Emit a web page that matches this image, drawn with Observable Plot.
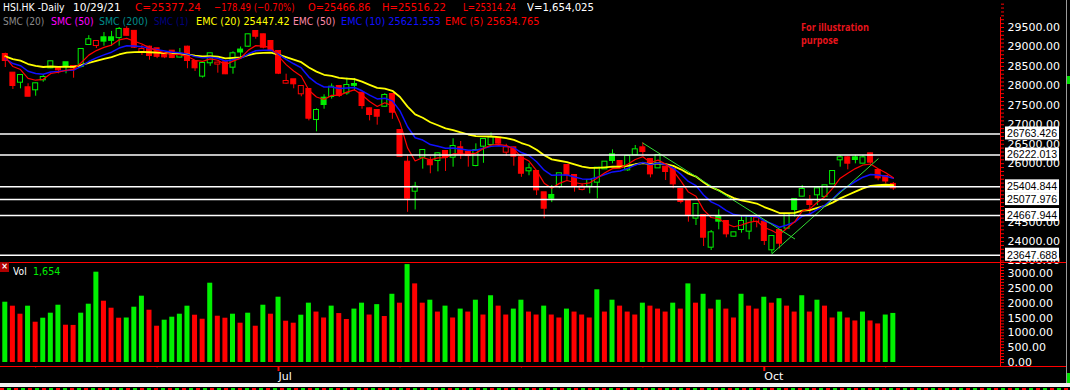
<!DOCTYPE html>
<html><head><meta charset="utf-8">
<script src="https://cdn.jsdelivr.net/npm/d3@7"></script>
<script src="https://cdn.jsdelivr.net/npm/@observablehq/plot@0.6"></script>
<style>
html,body{margin:0;padding:0;background:#000;overflow:hidden;}
#wrap{position:relative;width:1070px;height:390px;overflow:hidden;background:#000;}
#wrap svg{position:absolute;left:0;overflow:visible;}
.t{position:absolute;white-space:nowrap;font-family:"DejaVu Sans",sans-serif;font-size:10.5px;line-height:12px;transform-origin:0 0;}
.deco{position:absolute;}
</style></head><body>
<div id="wrap"></div>
<script>
// ---------------- DATA ----------------
const opens = [28806,28326,28094,27950,27899,28156,28464,28464,28593,28498,28498,29063,29037,29235,29235,29240,29450,29400,28866,28994,
28952,28823,28891,28740,28994,28626,28250,28593,28560,28593,28480,28920,29020,29397,29312,29140,28883,28070,28156,27796,
27907,27135,27683,27727,27983,27820,28035,27812,27410,27367,27477,27778,26853,26038,25293,26167,26064,26082,26313,26167,
26408,26296,25953,26450,26493,26655,26296,26408,26150,25817,25799,25251,25183,25414,25953,25696,25337,25422,25525,25868,
26228,26056,25842,26228,26407,26107,25893,25911,25851,25337,25054,24600,24668,23854,24643,24514,24137,24308,24266,24514,
24497,23786,24283,24343,25080,25165,25028,25200,25160,25482,26099,26150,26150,26013,26253,25825,25671,25466.86];
const highs = [28840,28330,28290,28053,28070,28266,28640,28480,28600,28510,28950,29290,29160,29370,29400,29500,29520,29420,29037,29020,
28960,28830,28900,28960,29020,28640,28600,28840,28610,28620,28875,29000,29330,29420,29330,29150,28890,28300,28160,27990,
27920,27410,27770,28050,28000,28200,28190,27830,27430,27390,27800,27800,26860,26200,25520,26350,26170,26280,26320,26640,
26570,26300,26510,26630,26790,26670,26500,26420,26160,26000,25810,25260,25440,25750,25960,25700,25480,25580,25900,26050,
26356,26070,26200,26467,26536,26120,26230,25920,25860,25345,25060,24960,24680,24283,24814,24530,24240,24668,24640,24610,
24505,24140,24290,24700,25090,25440,25182,25360,25440,25810,26210,26180,26210,26210,26270,25830,25680,25516.22];
const lows = [28472,27907,27924,27720,27734,28094,28440,28310,28310,28197,28464,29040,28960,29020,29020,29020,29280,28960,28780,28660,
28700,28700,28700,28720,28440,28370,28200,28500,28326,28290,28300,28720,28990,29200,28950,28900,28290,28040,27925,27720,
27100,26820,27400,27660,27700,27760,27870,27400,27100,26990,27450,27140,26180,24750,24810,25860,25740,25790,25800,25910,
26110,25910,25920,26010,26450,26500,26190,25935,25650,25690,25180,24584,25000,25360,25570,25268,25300,25225,25097,25850,
25996,25900,25800,26210,26210,25636,25880,25568,25354,24968,24497,24411,23872,23769,24300,24094,24120,24214,24043,24352,
23897,23683,23812,24330,24626,25150,24711,24925,25139,25470,25910,25842,25996,26000,25990,25560,25482,25314.24];
const closes = [28652,28010,28266,27734,28053,28215,28618,28413,28506,28464,28935,29184,29140,29150,29170,29450,29300,28994,28935,28780,
28760,28745,28730,28790,28652,28464,28575,28824,28585,28310,28824,28870,29312,29276,28994,28909,28326,28112,28053,27983,
27169,27367,27521,27966,27752,28010,28015,27495,27264,27220,27753,27323,26192,25113,25396,26339,25972,26253,26167,26442,
26254,26210,26339,26622,26665,26527,26408,26193,25755,25868,25328,24856,25113,25740,25714,25414,25400,25568,25885,26039,
26082,25911,26185,26356,26313,25739,26210,25799,25482,25028,24694,24951,24111,24223,24523,24197,24223,24514,24626,24600,
24026,24128,23957,24694,24823,25337,24951,25354,25431,25799,26150,26013,26108,26150,26039,25636,25555.73,25377.24];
// volume in thousands of lots
const volumes = [2032,1898,1628,1898,1358,1493,1662,1931,1257,1250,1662,1965,3044,2066,1830,1493,1500,1864,2235,1763,
1223,1426,1527,1628,1898,1594,1459,2673,1560,1493,1628,1325,1662,1223,1931,1628,2201,1392,1325,1594,
2000,1700,1500,1900,1650,1450,1800,2000,1600,1950,1550,2300,2000,3300,2650,2000,2100,1700,1900,1500,
1800,1700,2100,1600,2250,1900,1600,1800,2100,1700,1600,1900,1600,1500,1800,1700,1600,1500,2450,1700,
2100,1900,1700,1600,2000,1900,1800,1700,2000,1800,2650,2000,2300,1800,2100,1800,1500,2300,1900,1800,
2200,2000,2150,1900,1700,2250,1700,2100,1900,1500,1700,1500,1400,1700,1400,1300,1600,1654.025];
const prevClose = 28900;     // close of the bar before the first one shown
const prevVolume = 1900;     // volume of the bar before the first one shown
const levels = [26763.426, 26222.013, 25404.844, 25077.976, 24667.944, 23647.688];
// 25000 and 25500 sit fully under the level boxes in the reference, so they are not labelled
const priceTicks = [23500,24000,24500,26000,26500,27000,27500,28000,28500,29000,29500];
const volTicks = [0,500,1000,1500,2000,2500,3000];
const monthTickIdx = [36, 100];
const monthTickLabels = ["Jul", "Oct"];
const weekTickIdx = [4, 20, 52, 68, 84, 116];
const trend1Idx = [84, 104], trend1Val = [26530, 24069];
const trend2Idx = [101, 115], trend2Val = [23684, 26125];
const emaSeed5 = 28740, emaSeed10 = 28700, emaSeed20 = 28760;
const headerEMA20 = "25447.42", headerEMA10 = "25621.553", headerEMA5 = "25634.765";

// ---------------- DERIVED ----------------
const G = "#00f000", R = "#ff0000";
const N = closes.length;
const idx = d3.range(N);
const up = i => closes[i] >= (i ? closes[i - 1] : prevClose);
const hollow = i => closes[i] >= opens[i];
const volUp = i => volumes[i] >= (i ? volumes[i - 1] : prevVolume);
function ema(vals, n, seed) {
  const k = 2 / (n + 1); const out = []; let e = seed;
  vals.forEach((v, i) => { e = i === 0 ? seed : e + k * (v - e); out.push(e); });
  return out;
}
const ema5 = ema(closes, 5, emaSeed5), ema10 = ema(closes, 10, emaSeed10), ema20 = ema(closes, 20, emaSeed20);
const X_DOMAIN = [-0.632, 131.12];
const xEnd = X_DOMAIN[1];
const fmt2 = d3.format(".2f"), fmt3 = d3.format(".3f");
const minorPrice = d3.range(23500, 30101, 100);
const minorVol = d3.range(0, 3301, 100);

const wrap = document.getElementById("wrap");

// ---------------- PRICE PANEL ----------------
const price = Plot.plot({
  width: 1070, height: 262, marginLeft: 0, marginRight: 70, marginTop: 0, marginBottom: 0,
  style: {background: "transparent", color: "#fff", fontFamily: "DejaVu Sans", fontSize: "11px", overflow: "visible"},
  x: {domain: X_DOMAIN, axis: null},
  y: {domain: [23460.3, 30194], axis: null},
  color: {type: "identity"},
  marks: [
    Plot.ruleX(idx, {x: i => i, y1: i => lows[i], y2: i => highs[i], stroke: i => up(i) ? G : R, strokeWidth: 1}),
    Plot.rect(idx, {x1: i => i, x2: i => i, y1: i => opens[i], y2: i => closes[i],
      insetLeft: -2.5, insetRight: -2.5, insetTop: -0.5, insetBottom: -0.5,
      fill: i => hollow(i) ? "#000" : (up(i) ? G : R), stroke: i => up(i) ? G : R, strokeWidth: 1}),
    Plot.line(idx, {x: i => i, y: i => ema20[i], stroke: "#ffff00", strokeWidth: 1.8}),
    Plot.line(idx, {x: i => i, y: i => ema10[i], stroke: "#1010ff", strokeWidth: 1.5}),
    Plot.line(idx, {x: i => i, y: i => ema5[i], stroke: "#ff0000", strokeWidth: 1.2}),
    Plot.line([0, 1], {x: k => trend1Idx[k], y: k => trend1Val[k], stroke: "#33dd33", strokeWidth: 1}),
    Plot.line([0, 1], {x: k => trend2Idx[k], y: k => trend2Val[k], stroke: "#33dd33", strokeWidth: 1}),
    Plot.ruleY(levels, {y: d => d, stroke: "#fff", strokeWidth: 1.5}),
    Plot.ruleX([xEnd], {x: d => d, stroke: "#ff0000", insetTop: 17}),
    Plot.axisY({anchor: "right", ticks: priceTicks, tickFormat: fmt2, tickSize: 0, tickPadding: 7, fill: "#fff", label: null}),
    Plot.axisY({anchor: "right", ticks: minorPrice, tickFormat: () => "", tickSize: 3, stroke: "#ff0000", label: null}),
    Plot.rect(levels, {x1: xEnd, x2: xEnd, y1: d => d, y2: d => d, insetLeft: 5, insetRight: -59, insetTop: -7, insetBottom: -6, fill: "#fff"}),
    Plot.text(levels, {x: xEnd, y: d => d, text: d => fmt3(d), dx: 6.5, textAnchor: "start", fill: "#000", fontFamily: "Liberation Sans", fontSize: 10.6})
  ]
});
price.style.top = "0px";
wrap.appendChild(price);

// ---------------- VOLUME PANEL ----------------
const vol = Plot.plot({
  width: 1070, height: 128, marginLeft: 0, marginRight: 70, marginTop: 0, marginBottom: 24,
  style: {background: "transparent", color: "#fff", fontFamily: "DejaVu Sans", fontSize: "11px"},
  x: {domain: X_DOMAIN, axis: null},
  y: {domain: [-134.8, 3370.8], axis: null},
  color: {type: "identity"},
  marks: [
    Plot.rect(idx, {x1: i => i, x2: i => i, y1: 0, y2: i => volumes[i], insetLeft: -2.5, insetRight: -2.5,
      fill: i => volUp(i) ? G : R}),
    Plot.ruleX([xEnd], {x: d => d, stroke: "#ff0000"}),
    Plot.axisY({anchor: "right", ticks: volTicks, tickFormat: fmt2, tickSize: 0, tickPadding: 7, fill: "#fff", label: null}),
    Plot.axisY({anchor: "right", ticks: minorVol, tickFormat: () => "", tickSize: 3, stroke: "#ff0000", label: null}),
    Plot.axisX({anchor: "bottom", ticks: monthTickIdx, tickFormat: i => monthTickLabels[monthTickIdx.indexOf(i)],
      tickSize: 5, tickPadding: 1, stroke: "#ff0000", strokeWidth: 2, fill: "#fff", textAnchor: "start", dx: 0, label: null}),
    Plot.axisX({anchor: "bottom", ticks: weekTickIdx, tickFormat: () => "", tickSize: 1.5, stroke: "#ff0000", label: null})
  ]
});
vol.style.top = "262px";
wrap.appendChild(vol);

// ---------------- DECORATION & TEXT ----------------
function deco(css) { const d = document.createElement("div"); d.className = "deco"; d.style.cssText = css; wrap.appendChild(d); return d; }
deco("left:0;top:262px;width:1066px;height:1px;background:#ff0000;");
deco("left:0;top:366px;width:1066px;height:1px;background:#ff0000;");
deco("left:0;top:383px;width:1070px;height:4px;background:#f0f0f0;");
deco("left:0;top:388px;width:1070px;height:2px;background:repeating-linear-gradient(90deg,#ff0000 0 4px,#000 4px 7px,#00e000 7px 11px,#000 11px 14px);");
deco("left:1066px;top:0;width:1px;height:383px;background:#9a9a9a;");
deco("left:1067px;top:76px;width:3px;height:8px;background:#00e000;");
deco("left:1067px;top:373px;width:3px;height:10px;background:#00e000;");
const icon = deco("left:0;top:262px;width:9px;height:10px;background:#b00000;color:#fff;font:bold 8px 'DejaVu Sans';line-height:10px;text-align:center;");
icon.textContent = "×";

// text placed at a start x and squeezed to end at the x measured on the reference
function txt(x, y, s, color, xEndText, extra) {
  const d = document.createElement("div"); d.className = "t";
  d.style.left = x + "px"; d.style.top = y + "px"; d.style.color = color;
  if (extra) d.style.cssText += extra;
  d.textContent = s; wrap.appendChild(d);
  if (xEndText) {
    const w = d.getBoundingClientRect().width;
    if (w > 0) d.style.transform = "scaleX(" + ((xEndText - x) / w).toFixed(4) + ")";
  }
}
const last = N - 1;
const chg = closes[last] - closes[last - 1];
txt(3.4, 1, "HSI.HK -Daily", "#fff", 65);
txt(73.3, 1, "10/29/21", "#fff", 121);
txt(135, 1, "C=" + fmt2(closes[last]), "#ff0000", 201);
txt(213.5, 1, fmt2(chg) + " (" + fmt2(chg / closes[last - 1] * 100) + "%)", "#ff0000", 294);
txt(307.5, 1, "O=" + fmt2(opens[last]), "#ff0000", 370);
txt(382.2, 1, "H=" + fmt2(highs[last]), "#ff0000", 446);
txt(463.2, 1, "L=" + fmt2(lows[last]), "#ff0000", 516);
txt(527, 1, "V=" + d3.format(",")(Math.round(volumes[last] * 1000)), "#fff", 594);

txt(3.4, 14.5, "SMC (20)", "#8a8a8a", 44.8);
txt(51, 14.5, "SMC (50)", "#ff00ff", 93.7);
txt(99.2, 14.5, "SMC (200)", "#008c8c", 148);
txt(154.3, 14.5, "SMC (1)", "#000080", 188.7);
txt(195.6, 14.5, "EMC (20) " + headerEMA20, "#ffff00", 289.3);
txt(293.4, 14.5, "EMC (50)", "#ff8aa8", 335.7);
txt(341, 14.5, "EMC (10) " + headerEMA10, "#1010ff", 440.8);
txt(445.2, 14.5, "EMC (5) " + headerEMA5, "#ff0000", 539.6);

txt(801, 21, "For illustration", "#e8141c", 869, "font-family:'Open Sans';font-weight:700;font-size:10px;");
txt(801, 34, "purpose", "#e8141c", 838, "font-family:'Open Sans';font-weight:700;font-size:10px;");

txt(13.3, 265, "Vol", "#fff", 27);
txt(32.7, 265, d3.format(",")(Math.round(volumes[last])), "#00f000", 60);
</script>
</body></html>
